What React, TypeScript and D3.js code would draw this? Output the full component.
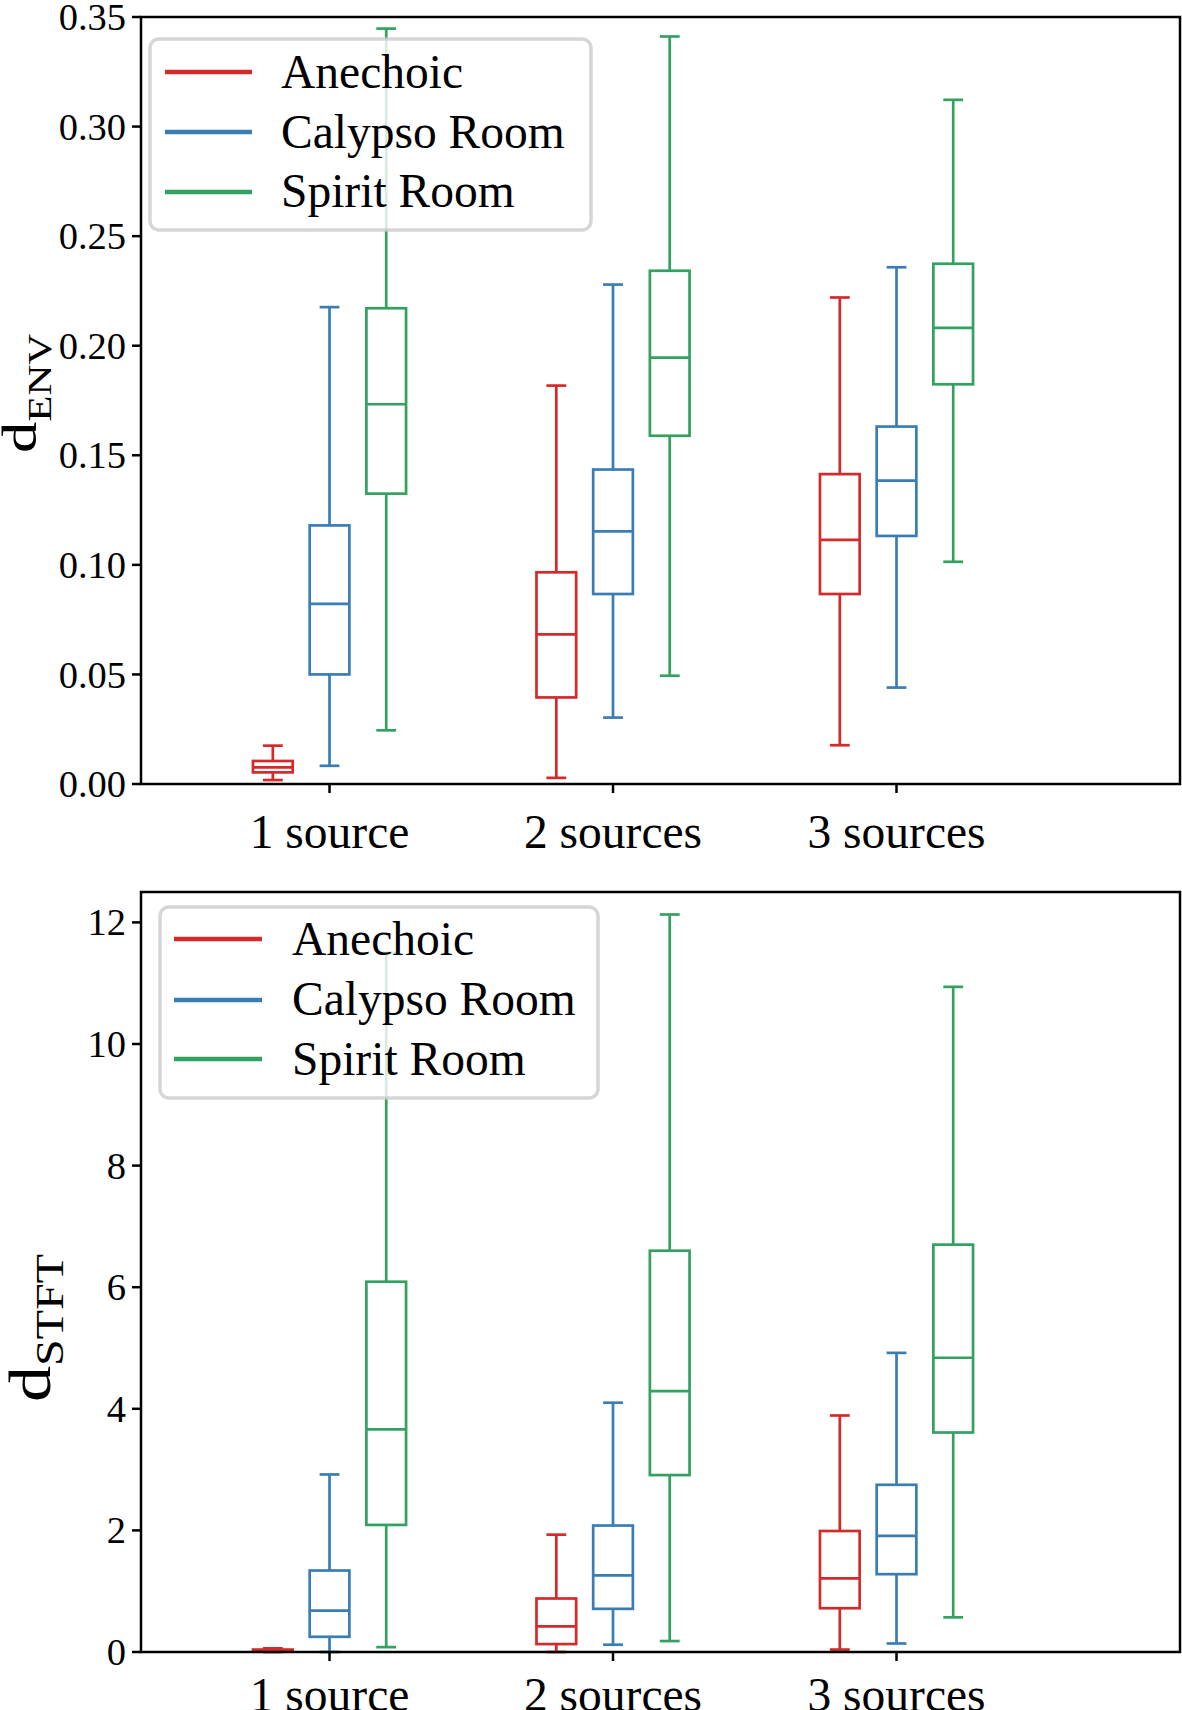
import React from "react";
import * as d3 from "d3";

// ---------- data ----------
const categories = ["1 source", "2 sources", "3 sources"];
const rooms = ["Anechoic", "Calypso Room", "Spirit Room"];
const roomColors = ["#d42a2a", "#3a7db5", "#33a160"];

// each entry: [whiskerLow, q1, median, q3, whiskerHigh]
const envAnechoic = [
  [0.0018, 0.0053, 0.0076, 0.0105, 0.0175],
  [0.0028, 0.0395, 0.0683, 0.0966, 0.1818],
  [0.0177, 0.0867, 0.1114, 0.1414, 0.222],
];
const envCalypso = [
  [0.0083, 0.05, 0.0822, 0.118, 0.2176],
  [0.0303, 0.0867, 0.1153, 0.1435, 0.2279],
  [0.044, 0.1132, 0.1384, 0.1631, 0.2358],
];
const envSpirit = [
  [0.0245, 0.1325, 0.1733, 0.2171, 0.3447],
  [0.0494, 0.1589, 0.1946, 0.2342, 0.3411],
  [0.1014, 0.1824, 0.2081, 0.2374, 0.3122],
];

const stftAnechoic = [
  [0.0, 0.005, 0.02, 0.04, 0.06],
  [0.0, 0.13, 0.42, 0.88, 1.93],
  [0.04, 0.72, 1.21, 1.99, 3.89],
];
const stftCalypso = [
  [0.0, 0.25, 0.68, 1.34, 2.92],
  [0.12, 0.71, 1.26, 2.08, 4.1],
  [0.14, 1.28, 1.91, 2.75, 4.92],
];
const stftSpirit = [
  [0.08, 2.09, 3.66, 6.09, 11.5],
  [0.18, 2.91, 4.29, 6.6, 12.13],
  [0.57, 3.61, 4.84, 6.7, 10.94],
];

const envTicks = [0, 0.05, 0.1, 0.15, 0.2, 0.25, 0.3, 0.35];
const stftTicks = [0, 2, 4, 6, 8, 10, 12];

// ---------- layout ----------
const W = 1182;
const H = 1710;
const FONT = "'Liberation Serif', 'Times New Roman', Times, serif";
const LEFT = 141;
const RIGHT = 1180;
const X_DOMAIN: [number, number] = [0.335, 4.0];
const OFFSETS = [-0.2, 0, 0.2];
const BOX_W = 0.14;
const LW = 2.7;
const YTICK_FS = 38.5;
const XTICK_FS = 47.5;
const LEGEND_FS = 47.5;

type Panel = {
  top: number;
  bottom: number;
  domain: [number, number];
  ticks: number[];
  fmt: (v: number) => string;
  series: number[][][];
  xLabelBaseline: number;
  legend: { x0: number; y0: number; x1: number; y1: number; hx0: number; hx1: number; hy: number[]; tx: number; ty: number[] };
  ylab: { x: number; y: number; main: string; sub: string; fs: number; subFs: number; shift: number; stretch: number };
};

const panels: Panel[] = [
  {
    top: 17,
    bottom: 784,
    domain: [0, 0.35],
    ticks: envTicks,
    fmt: d3.format(".2f"),
    series: [envAnechoic, envCalypso, envSpirit],
    xLabelBaseline: 848,
    legend: { x0: 150, y0: 39, x1: 591, y1: 230, hx0: 165, hx1: 252, hy: [72, 132, 192], tx: 281, ty: [88, 148, 207] },
    ylab: { x: 36, y: 453, main: "d", sub: "ENV", fs: 48, subFs: 33, shift: 15, stretch: 1.3 },
  },
  {
    top: 892,
    bottom: 1652,
    domain: [0, 12.5],
    ticks: stftTicks,
    fmt: d3.format("d"),
    series: [stftAnechoic, stftCalypso, stftSpirit],
    xLabelBaseline: 1711,
    legend: { x0: 160, y0: 907, x1: 598, y1: 1098, hx0: 174, hx1: 262, hy: [939, 1000, 1059], tx: 292, ty: [955, 1015, 1075] },
    ylab: { x: 50, y: 1402, main: "d", sub: "STFT", fs: 60, subFs: 40, shift: 13, stretch: 1.2 },
  },
];

function BoxPanel({ p }: { p: Panel }) {
  const x = d3.scaleLinear().domain(X_DOMAIN).range([LEFT, RIGHT]);
  const y = d3.scaleLinear().domain(p.domain).range([p.bottom, p.top]);
  const halfBox = (x(BOX_W) - x(0)) / 2;
  const halfCap = halfBox / 2;
  const L = p.legend;
  return (
    <g>
      {/* boxes */}
      {p.series.map((room, ri) =>
        room.map((s, gi) => {
          const cx = x(gi + 1 + OFFSETS[ri]);
          const [lo, q1, med, q3, hi] = s;
          const c = roomColors[ri];
          return (
            <g key={`${ri}-${gi}`} stroke={c} strokeWidth={LW} fill="none">
              <line x1={cx} x2={cx} y1={y(q1)} y2={y(lo)} />
              <line x1={cx} x2={cx} y1={y(q3)} y2={y(hi)} />
              <line x1={cx - halfCap} x2={cx + halfCap} y1={y(lo)} y2={y(lo)} />
              <line x1={cx - halfCap} x2={cx + halfCap} y1={y(hi)} y2={y(hi)} />
              <rect x={cx - halfBox} y={y(q3)} width={halfBox * 2} height={Math.max(0.5, y(q1) - y(q3))} />
              <line x1={cx - halfBox} x2={cx + halfBox} y1={y(med)} y2={y(med)} />
            </g>
          );
        })
      )}
      {/* spines */}
      <rect x={LEFT} y={p.top} width={RIGHT - LEFT} height={p.bottom - p.top} fill="none" stroke="#000" strokeWidth={2.5} />
      {/* y ticks */}
      {p.ticks.map((t) => (
        <g key={t}>
          <line x1={LEFT - 9} x2={LEFT} y1={y(t)} y2={y(t)} stroke="#000" strokeWidth={2.5} />
          <text x={LEFT - 15} y={y(t) + YTICK_FS * 0.34} textAnchor="end" fontSize={YTICK_FS} fontFamily={FONT} fill="#000">
            {p.fmt(t)}
          </text>
        </g>
      ))}
      {/* x ticks */}
      {categories.map((c, i) => (
        <g key={c}>
          <line x1={x(i + 1)} x2={x(i + 1)} y1={p.bottom} y2={p.bottom + 9} stroke="#000" strokeWidth={2.5} />
          <text x={x(i + 1)} y={p.xLabelBaseline} textAnchor="middle" fontSize={XTICK_FS} fontFamily={FONT} fill="#000">
            {c}
          </text>
        </g>
      ))}
      {/* legend */}
      <rect x={L.x0} y={L.y0} width={L.x1 - L.x0} height={L.y1 - L.y0} rx={9} fill="#fff" fillOpacity={0.8} stroke="#cccccc" strokeOpacity={0.8} strokeWidth={3.5} />
      {rooms.map((r, i) => (
        <g key={r}>
          <line x1={L.hx0} x2={L.hx1} y1={L.hy[i]} y2={L.hy[i]} stroke={roomColors[i]} strokeWidth={4.5} />
          <text x={L.tx} y={L.ty[i]} fontSize={LEGEND_FS} fontFamily={FONT} fill="#000">
            {r}
          </text>
        </g>
      ))}
      {/* y label */}
      <g transform={`translate(${p.ylab.x},${p.ylab.y}) rotate(-90) scale(${p.ylab.stretch},1)`}>
        <text x={0} y={0} fontFamily={FONT} fill="#000" fontSize={p.ylab.fs}>
          {p.ylab.main}
          <tspan fontSize={p.ylab.subFs} dy={p.ylab.shift}>
            {p.ylab.sub}
          </tspan>
        </text>
      </g>
    </g>
  );
}

export default function App() {
  return (
    <svg width={W} height={H} viewBox={`0 0 ${W} ${H}`} style={{ position: "absolute", left: 0, top: 0, background: "#fff" }}>
      <rect x={0} y={0} width={W} height={H} fill="#fff" />
      {panels.map((p, i) => (
        <BoxPanel key={i} p={p} />
      ))}
    </svg>
  );
}
